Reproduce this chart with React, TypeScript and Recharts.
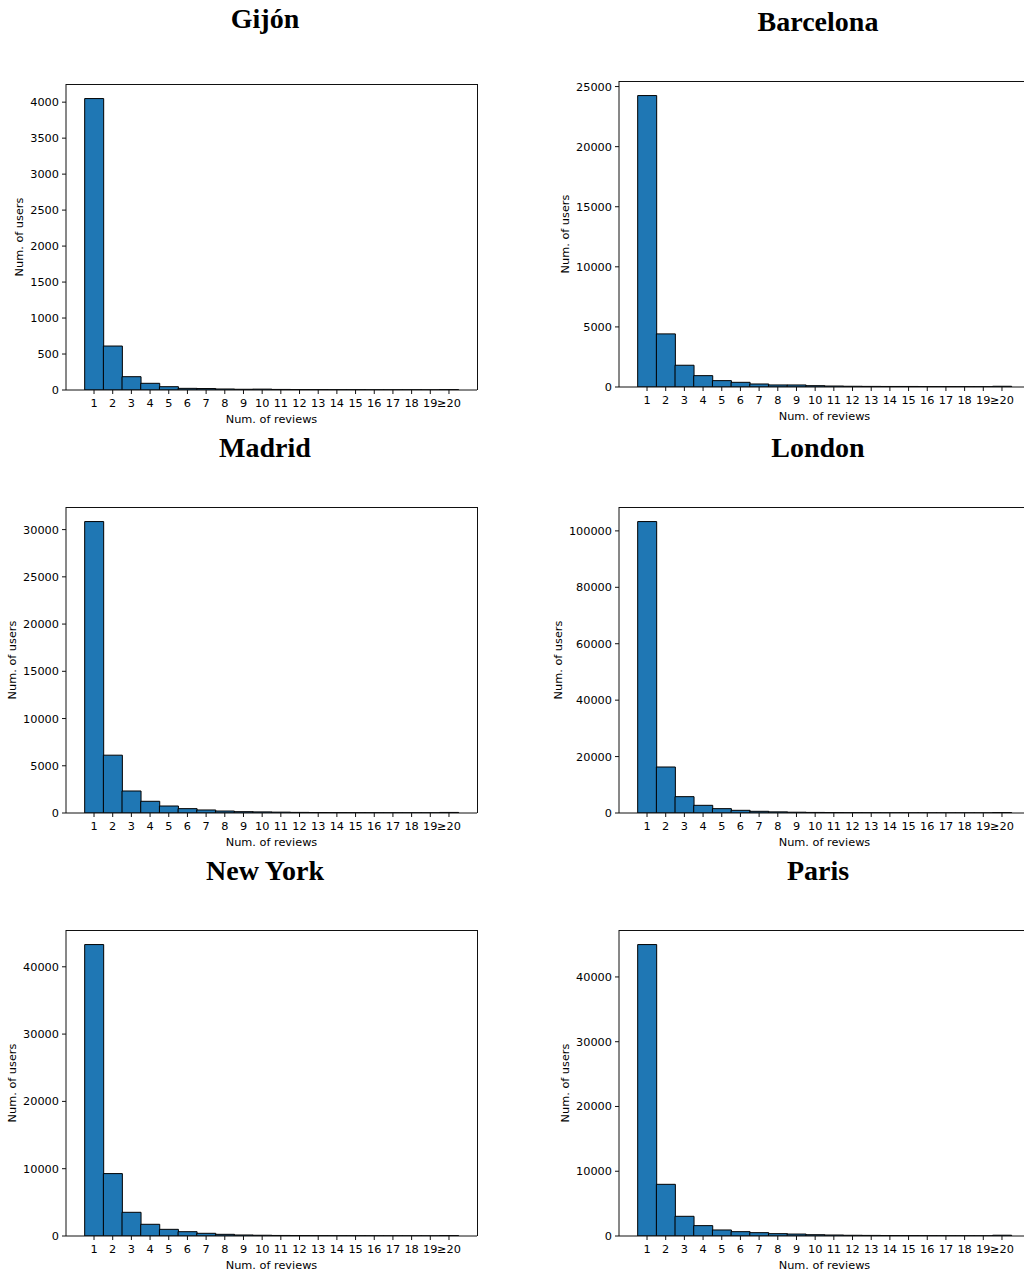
import React from 'react';
import { BarChart, Bar, XAxis, YAxis, Label } from 'recharts';

// review-count buckets (last one collects everything from 20 up)
const buckets = ['1', '2', '3', '4', '5', '6', '7', '8', '9', '10', '11', '12', '13', '14', '15', '16', '17', '18', '19', '≥20'];

const gijonUsers = [4050, 611, 185, 93, 46, 23, 20, 14, 10, 12, 8, 6, 5, 4, 4, 3, 3, 3, 2, 5];
const barcelonaUsers = [24250, 4420, 1810, 945, 530, 390, 250, 170, 170, 110, 80, 60, 50, 45, 45, 35, 30, 28, 25, 60];
const madridUsers = [30850, 6120, 2330, 1240, 740, 460, 320, 210, 140, 115, 90, 65, 50, 40, 35, 30, 25, 22, 20, 60];
const londonUsers = [103300, 16300, 5790, 2720, 1540, 950, 600, 400, 280, 200, 150, 110, 90, 70, 60, 50, 40, 35, 30, 150];
const newYorkUsers = [43300, 9270, 3520, 1740, 990, 640, 400, 250, 150, 110, 80, 65, 50, 40, 35, 30, 25, 22, 20, 60];
const parisUsers = [45000, 7980, 3040, 1600, 930, 670, 515, 360, 300, 200, 150, 110, 90, 70, 60, 50, 40, 35, 30, 120];

const gijonTicks = [0, 500, 1000, 1500, 2000, 2500, 3000, 3500, 4000];
const barcelonaTicks = [0, 5000, 10000, 15000, 20000, 25000];
const madridTicks = [0, 5000, 10000, 15000, 20000, 25000, 30000];
const londonTicks = [0, 20000, 40000, 60000, 80000, 100000];
const newYorkTicks = [0, 10000, 20000, 30000, 40000];
const parisTicks = [0, 10000, 20000, 30000, 40000];

const PLOT_W = 411;
const PLOT_H = 306;
const AXIS_W = 70;
const TOP = 10;
const RIGHT = 10;
const XAXIS_H = 40;
const UNIT = PLOT_W / 22; // x range runs from -0.5 to 21.5

const tickFont = { fontFamily: 'DejaVu Sans', fontSize: 11.3, fill: '#000' };

type Panel = {
  title: string;
  users: number[];
  ticks: number[];
  left: number;
  top: number;
  titleX: number;
  titleY: number;
  yLabelX: number;
};

const panels: Panel[] = [
  { title: 'Gijón', users: gijonUsers, ticks: gijonTicks, left: 66, top: 84, titleX: 265, titleY: 28, yLabelX: 19 },
  { title: 'Barcelona', users: barcelonaUsers, ticks: barcelonaTicks, left: 619, top: 81, titleX: 818, titleY: 31, yLabelX: 565 },
  { title: 'Madrid', users: madridUsers, ticks: madridTicks, left: 66, top: 507, titleX: 265, titleY: 457, yLabelX: 12 },
  { title: 'London', users: londonUsers, ticks: londonTicks, left: 619, top: 507, titleX: 818, titleY: 457, yLabelX: 558 },
  { title: 'New York', users: newYorkUsers, ticks: newYorkTicks, left: 66, top: 930, titleX: 265, titleY: 880, yLabelX: 12 },
  { title: 'Paris', users: parisUsers, ticks: parisTicks, left: 619, top: 930, titleX: 818, titleY: 880, yLabelX: 565 },
];

const Histogram: React.FC<{ p: Panel }> = ({ p }) => {
  const data = buckets.map((b, i) => ({ bucket: b, users: p.users[i] }));
  const yTop = Math.max(...p.users) * 1.05;
  const chartLeft = p.left - AXIS_W;
  return (
    <>
      <div style={{ position: 'absolute', left: chartLeft, top: p.top - TOP }}>
        <BarChart
          width={AXIS_W + PLOT_W + RIGHT}
          height={TOP + PLOT_H + XAXIS_H}
          data={data}
          margin={{ top: TOP, right: RIGHT, left: 0, bottom: 0 }}
          barCategoryGap={0}
          barGap={0}
        >
          <XAxis
            dataKey="bucket"
            height={XAXIS_H}
            interval={0}
            padding={{ left: UNIT, right: UNIT }}
            tick={tickFont}
            tickSize={4}
            tickMargin={5}
            stroke="#111"
            tickLine={{ stroke: '#111' }}
          >
            <Label value="Num. of reviews" position="insideBottom" offset={7} style={{ fontFamily: 'DejaVu Sans', fontSize: 11.3, fill: '#000' }} />
          </XAxis>
          <YAxis
            type="number"
            width={AXIS_W}
            domain={[0, yTop]}
            ticks={p.ticks}
            allowDataOverflow
            tick={tickFont}
            tickSize={4}
            tickMargin={3}
            stroke="#111"
            tickLine={{ stroke: '#111' }}
          >
            <Label
              value="Num. of users"
              angle={-90}
              position="insideLeft"
              offset={p.yLabelX - chartLeft}
              style={{ fontFamily: 'DejaVu Sans', fontSize: 11.3, fill: '#000', textAnchor: 'middle' }}
            />
          </YAxis>
          <Bar dataKey="users" fill="#1f77b4" stroke="#000" strokeWidth={1} isAnimationActive={false} />
        </BarChart>
      </div>
      {/* top and right spines of the axes box */}
      <div
        style={{
          position: 'absolute',
          left: p.left,
          top: p.top - 0.5,
          width: PLOT_W + 0.5,
          height: PLOT_H,
          borderTop: '1px solid #111',
          borderRight: '1px solid #111',
          boxSizing: 'border-box',
          pointerEvents: 'none',
        }}
      />
    </>
  );
};

export default function App() {
  return (
    <div style={{ position: 'absolute', left: 0, top: 0, width: 1024, height: 1274, overflow: 'hidden', background: '#fff' }}>
      {panels.map((p) => (
        <Histogram key={p.title} p={p} />
      ))}
      <svg width={1024} height={1274} style={{ position: 'absolute', left: 0, top: 0, pointerEvents: 'none' }}>
        {panels.map((p) => (
          <text
            key={p.title}
            x={p.titleX}
            y={p.titleY}
            textAnchor="middle"
            fontFamily="Liberation Serif"
            fontWeight="bold"
            fontSize={28}
            fill="#000"
          >
            {p.title}
          </text>
        ))}
      </svg>
    </div>
  );
}
